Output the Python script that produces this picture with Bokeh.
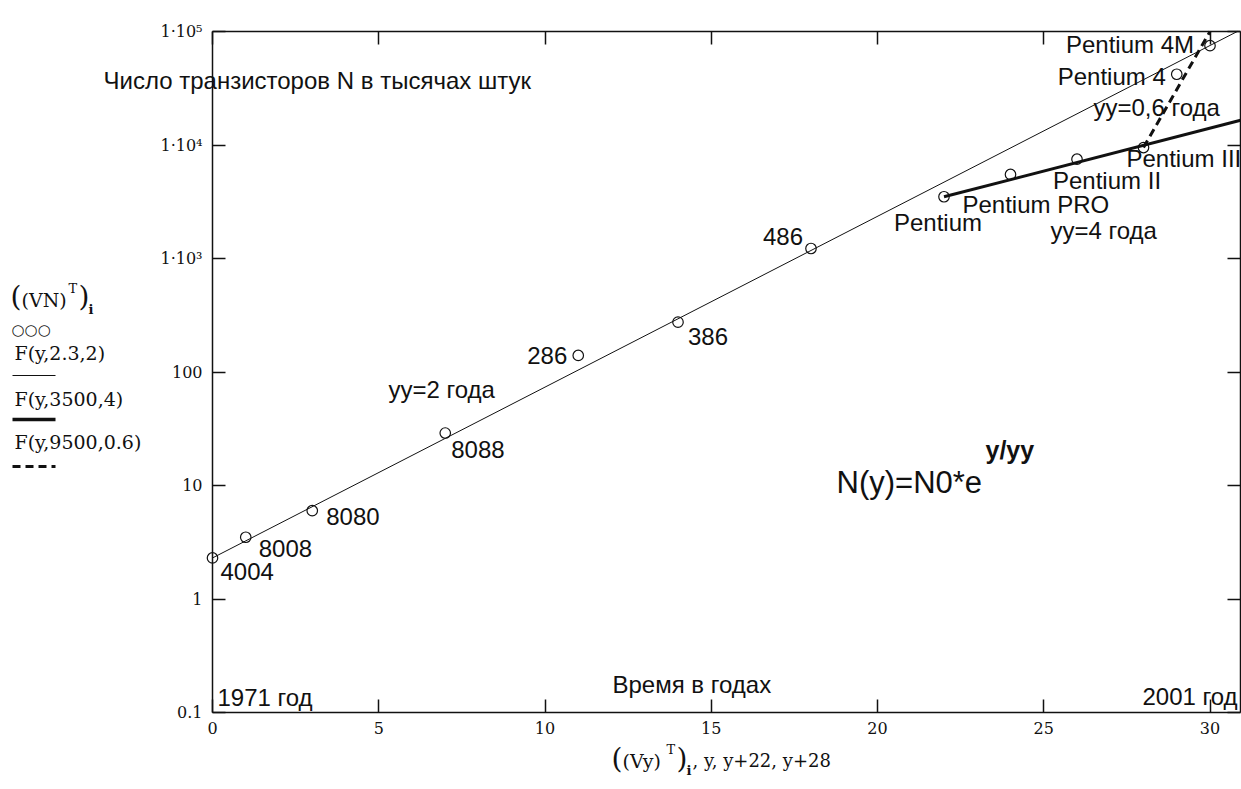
from bokeh.plotting import figure
from bokeh.models import (LogAxis, LinearAxis, FixedTicker, Label, Arrow,
                          CustomJSTickFormatter, Range1d)
from bokeh.embed import file_html
from bokeh.resources import INLINE

# ---------------- data ----------------
years = [0, 1, 3, 7, 11, 14, 18, 22, 24, 26, 28, 29, 30]
transistors = [2.3, 3.5, 6, 29, 140, 275, 1225, 3500, 5500, 7500, 9500, 42000, 75000]
cpu_names = ["4004", "8008", "8080", "8088", "286", "386", "486", "Pentium",
             "Pentium PRO", "Pentium II", "Pentium III", "Pentium 4", "Pentium 4M"]

# trend lines (straight on log scale)
trend2_x = [0, 30.82]
trend2_n = [2.3, 100000]
trend4_x = [22, 30.92]
trend4_n = [3500, 16500]
trend06_x = [28, 30.0]
trend06_n = [9500, 100000]

x_ticks = [0, 5, 10, 15, 20, 25, 30]
y_ticks = [0.1, 1, 10, 100, 1000, 10000, 100000]
y_tick_labels = ["0.1", "1", "10", "100", "1·10³", "1·10⁴", "1·10⁵"]
x_min, x_max = 0, 30.92
y_min, y_max = 0.1, 100000

# ---------------- layout helpers (annotation placement only) ----------------
AX_LEFT = 212          # page x of year 0 (the y axis)
AX_TOP, AX_BOTTOM = 31, 712
DEC = (AX_BOTTOM - AX_TOP) / 6.0
XS = 33.25             # px per year
W, H = 1241, 786
X_START = -AX_LEFT / XS
X_END = X_START + W / XS
Y_TOP_LOG = 5 + AX_TOP / DEC
Y_BOT_LOG = -1 - (H - AX_BOTTOM) / DEC


def sx(px):
    return (px - AX_LEFT) / XS


def sy(py):
    return 10 ** ((AX_BOTTOM - py) / DEC - 1)


SANS = "Liberation Sans"
SERIF = "DejaVu Serif"
INK = "#111111"

p = figure(frame_width=W, frame_height=H, y_axis_type="log",
           x_range=Range1d(X_START, X_END),
           y_range=Range1d(10 ** Y_BOT_LOG, 10 ** Y_TOP_LOG),
           output_backend="svg", toolbar_location=None,
           min_border_left=0, min_border_top=0,
           min_border_right=0, min_border_bottom=0,
           background_fill_color="white", border_fill_color="white")
p.grid.visible = False
p.outline_line_color = None

# ---- axes (all fixed at the data box edges) ----
fmt_js = """
for (let k = 0; k < vals.length; k++) {
  if (Math.abs(tick - vals[k]) <= 1e-9 * Math.max(1, Math.abs(vals[k]))) return labs[k];
}
return '';
"""
blank = CustomJSTickFormatter(code="return '';")


def style_axis(ax):
    ax.axis_line_color = INK
    ax.axis_line_width = 1.5
    ax.major_tick_line_color = INK
    ax.major_tick_line_width = 1.5
    ax.major_tick_in = 13
    ax.major_tick_out = 0
    ax.minor_tick_in = 0
    ax.minor_tick_out = 0
    ax.major_label_text_font = SERIF
    ax.major_label_text_font_size = "16px"
    ax.major_label_text_color = INK


xa = p.xaxis[0]
xa.ticker = FixedTicker(ticks=x_ticks)
xa.fixed_location = y_min
xa.bounds = (x_min, x_max)
style_axis(xa)
xa.major_label_standoff = 9

ya = p.yaxis[0]
ya.ticker = FixedTicker(ticks=y_ticks)
ya.formatter = CustomJSTickFormatter(args=dict(vals=y_ticks, labs=y_tick_labels), code=fmt_js)
ya.fixed_location = x_min
ya.bounds = (y_min, y_max)
style_axis(ya)
ya.major_label_standoff = 10

ra = LogAxis(ticker=FixedTicker(ticks=y_ticks), formatter=blank,
             fixed_location=x_max, bounds=(y_min, y_max))
style_axis(ra)
ra.major_label_standoff = 0
p.add_layout(ra, "right")

ta = LinearAxis(ticker=FixedTicker(ticks=x_ticks), formatter=blank,
                fixed_location=y_max, bounds=(x_min, x_max))
style_axis(ta)
ta.major_label_standoff = 0
p.add_layout(ta, "above")

# ---- lines ----
p.line(trend2_x, trend2_n, line_color=INK, line_width=1)
p.line(trend4_x, trend4_n, line_color=INK, line_width=3)
p.line(trend06_x, trend06_n, line_color=INK, line_width=3, line_dash="8 5")

# ---- points ----
p.scatter(years, transistors, marker="circle", size=10.5, fill_color=None,
          line_color=INK, line_width=1.2)

# ---- point labels ----
label_offsets = {
    "4004": (8, -14, "left"),
    "8008": (13, -11, "left"),
    "8080": (14, -6, "left"),
    "8088": (6, -16, "left"),
    "286": (-11, 0, "right"),
    "386": (10, -14, "left"),
    "486": (-8, 12, "right"),
    "Pentium": (-50, -26, "left"),
    "Pentium PRO": (-48, -30, "left"),
    "Pentium II": (-24, -21, "left"),
    "Pentium III": (-17, -11, "left"),
    "Pentium 4": (-119, -2, "left"),
    "Pentium 4M": (-144, 1, "left"),
}
for xv, nv, name in zip(years, transistors, cpu_names):
    ox, oy, al = label_offsets[name]
    p.add_layout(Label(x=xv, y=nv, x_offset=ox, y_offset=oy, text=name,
                       text_font=SANS, text_font_size="24px", text_color=INK,
                       text_align=al, text_baseline="middle"))


def txt(text, px, py, size="24px", font=SANS, style="normal", align="left"):
    p.add_layout(Label(x=sx(px), y=sy(py), text=text, text_font=font,
                       text_font_size=size, text_font_style=style,
                       text_color=INK, text_align=align, text_baseline="middle"))


txt("Число транзисторов N в тысячах штук", 103, 80)
txt("yy=2 года", 388, 389)
txt("yy=4 года", 1050, 230)
txt("yy=0,6 года", 1093, 107)
txt("1971 год", 217, 697)
txt("Время в годах", 612, 684)
txt("2001 год", 1142, 696)
txt("N(y)=N0*e", 836, 482, size="31px")
txt("y/yy", 985, 449, size="25px", style="bold")

# ---- left-hand legend (Mathcad style) ----
txt("(", 10, 296, size="28px", font=SERIF)
txt("(VN)", 21, 299, size="19px", font=SERIF)
txt("T", 68, 288, size="13px", font=SERIF)
txt(")", 78, 296, size="28px", font=SERIF)
txt("i", 88, 309, size="13px", font=SERIF, style="bold")
txt("○○○", 11, 329, size="15px", font="DejaVu Sans")
txt("F(y,2.3,2)", 14, 352, size="19px", font=SERIF)
txt("F(y,3500,4)", 14, 398, size="19px", font=SERIF)
txt("F(y,9500,0.6)", 14, 441, size="19px", font=SERIF)

for py, lw, dash in [(375, 1.2, "solid"), (419, 3.5, "solid"), (466, 3, "8 5")]:
    p.add_layout(Arrow(x_start=sx(12), y_start=sy(py), x_end=sx(55), y_end=sy(py),
                       start=None, end=None, line_color=INK, line_width=lw,
                       line_dash=dash))

# ---- x axis title (Mathcad style) ----
txt("(", 611, 758, size="28px", font=SERIF)
txt("(Vy)", 622, 760, size="19px", font=SERIF)
txt("T", 666, 749, size="13px", font=SERIF)
txt(")", 676, 758, size="28px", font=SERIF)
txt("i", 686, 770, size="13px", font=SERIF, style="bold")
txt(", y, y+22, y+28", 692, 760, size="18px", font=SERIF)

open("out.html", "w").write(file_html(p, INLINE))
